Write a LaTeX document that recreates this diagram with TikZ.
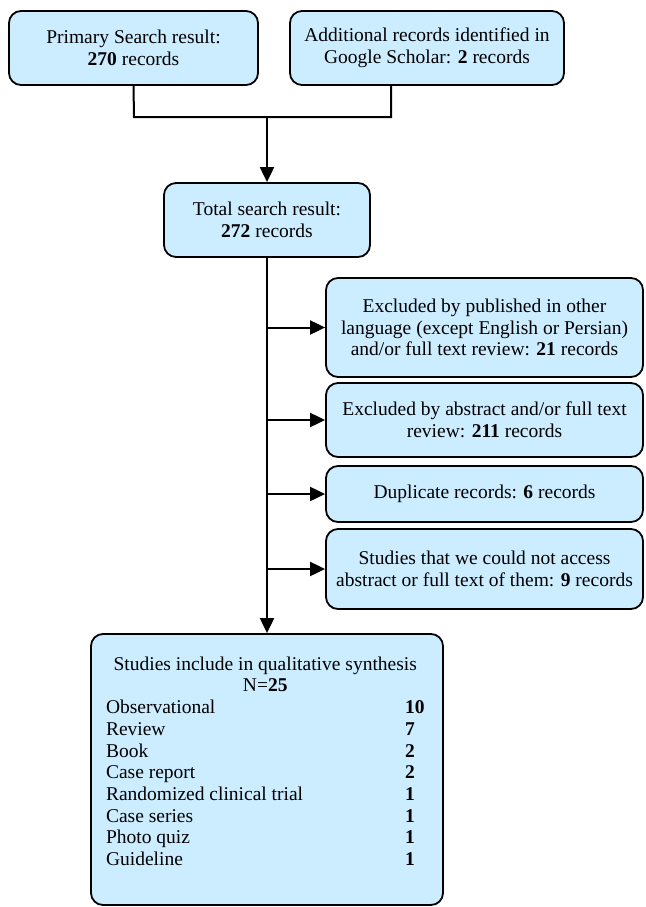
\documentclass[tikz,border=0pt]{standalone}
\usepackage{fontspec}
\setmainfont{Liberation Serif}
\usetikzlibrary{arrows.meta}
\definecolor{boxblue}{RGB}{204,236,255}
\begin{document}
\begin{tikzpicture}[x=1pt,y=-1pt,
  box/.style={draw=black, line width=1.8pt, fill=boxblue, rounded corners=12pt,
    inner sep=0pt, align=center, font=\fontsize{19.5}{21.7}\selectfont},
  conn/.style={line width=2pt},
  arr/.style={line width=2pt, -{Triangle[length=15pt,width=14pt]}}]
\useasboundingbox (0,0) rectangle (645,907);

\node[box, minimum width=249pt, minimum height=74pt] (b1) at (133.5,48)
  {Primary Search result:\\\textbf{270} records};
\node[box, minimum width=274pt, minimum height=74pt] (b2) at (427,48)
  {Additional records identified in\\Google Scholar: \textbf{2} records};
\node[box, minimum width=206pt, minimum height=74pt] (b3) at (267,220)
  {Total search result:\\\textbf{272} records};

\node[box, minimum width=317pt, minimum height=99pt] (bA) at (484.5,327.5)
  {Excluded by published in other\\language (except English or Persian)\\and/or full text review: \textbf{21} records};
\node[box, minimum width=317pt, minimum height=74pt] (bB) at (484.5,420)
  {Excluded by abstract and/or full text\\review: \textbf{211} records};
\node[box, minimum width=317pt, minimum height=56pt] (bC) at (484.5,494)
  {Duplicate records: \textbf{6} records};
\node[box, minimum width=317pt, minimum height=80pt] (bD) at (484.5,569)
  {Studies that we could not access\\abstract or full text of them: \textbf{9} records};

\node[box, minimum width=352pt, minimum height=271pt] (fin) at (267,769.5)
  {\parbox[c][263pt][t]{322pt}{\vspace*{17pt}%
   \begin{tabular}{@{}p{299pt}@{}l@{}}
   \multicolumn{2}{@{}c@{}}{Studies include in qualitative synthesis}\\
   \multicolumn{2}{@{}c@{}}{N=\textbf{25}}\\
   Observational & \textbf{10}\\
   Review & \textbf{7}\\
   Book & \textbf{2}\\
   Case report & \textbf{2}\\
   Randomized clinical trial & \textbf{1}\\
   Case series & \textbf{1}\\
   Photo quiz & \textbf{1}\\
   Guideline & \textbf{1}
   \end{tabular}}};

\coordinate (j1) at (134,117);
\coordinate (j2) at (391,117);
\coordinate (jm) at (267,117);
\draw[conn] (b1.south) -- (j1) -- (j2) -- (j2 |- b2.south);
\draw[arr] (jm) -- (b3.north);
\draw[arr] (b3.south) -- (fin.north);
\draw[arr] (b3.south |- bA.west) -- (bA.west);
\draw[arr] (b3.south |- bB.west) -- (bB.west);
\draw[arr] (b3.south |- bC.west) -- (bC.west);
\draw[arr] (b3.south |- bD.west) -- (bD.west);
\end{tikzpicture}
\end{document}
